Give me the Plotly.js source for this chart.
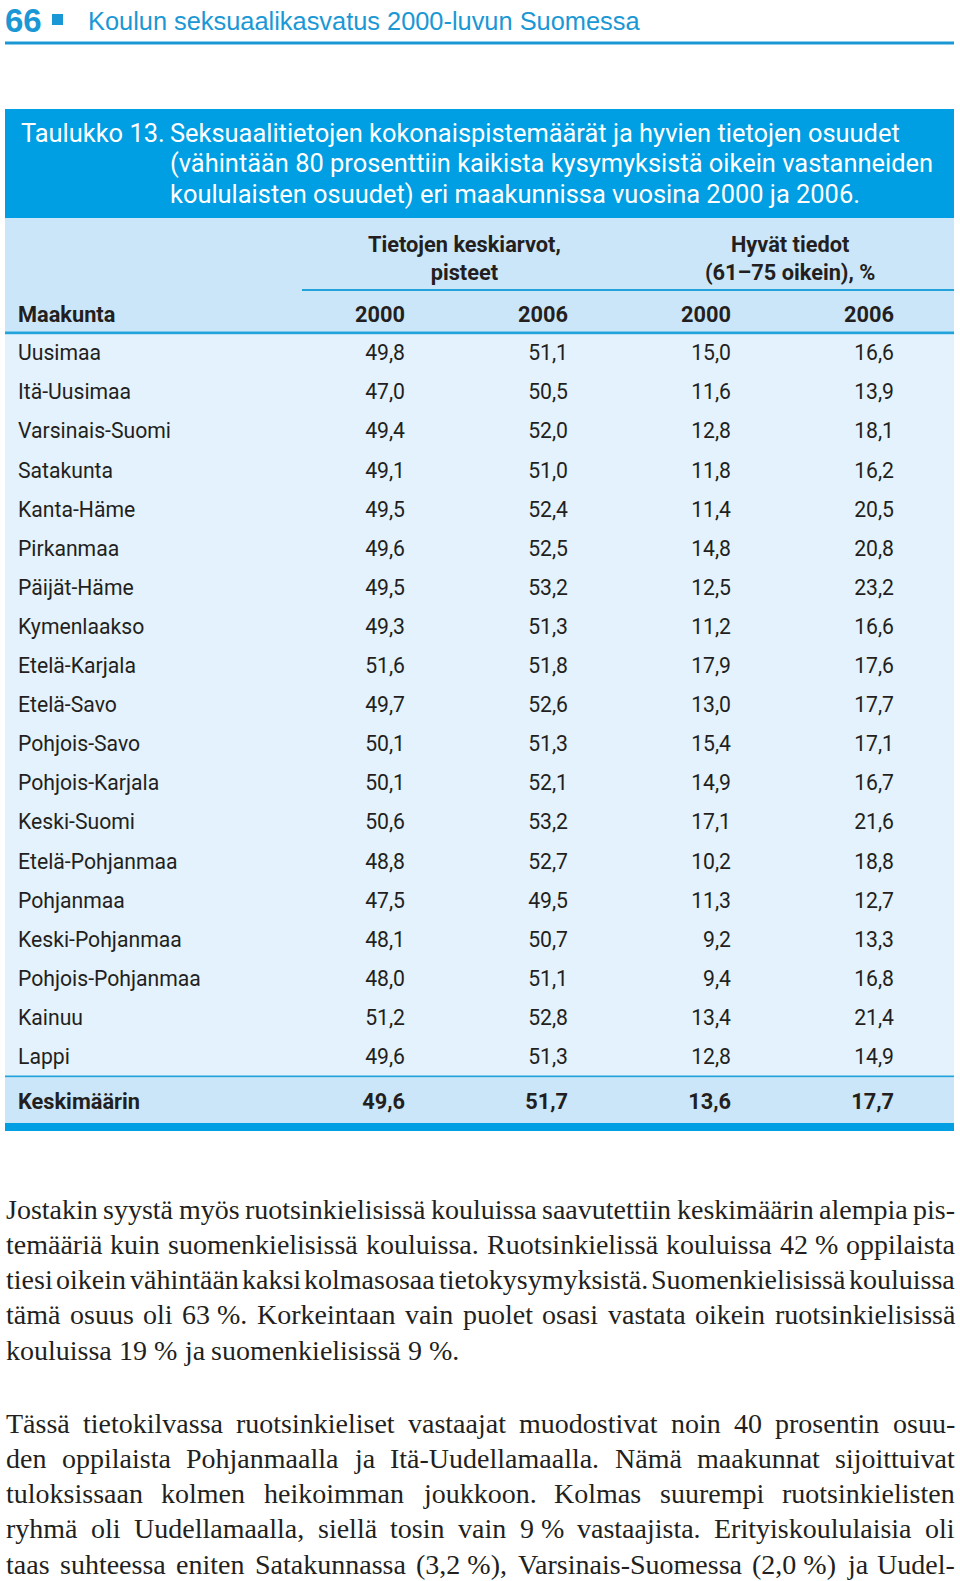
<!DOCTYPE html>
<html><head><meta charset="utf-8">
<script src="https://cdn.plot.ly/plotly-3.0.1.min.js"></script>
<style>html,body{margin:0;padding:0;background:#fff;}#chart{width:960px;height:1581px;}</style>
</head><body><div id="chart"></div>
<script>
// ---------------- data ----------------
const regions = ['Uusimaa','Itä-Uusimaa','Varsinais-Suomi','Satakunta','Kanta-Häme','Pirkanmaa','Päijät-Häme','Kymenlaakso','Etelä-Karjala','Etelä-Savo','Pohjois-Savo','Pohjois-Karjala','Keski-Suomi','Etelä-Pohjanmaa','Pohjanmaa','Keski-Pohjanmaa','Pohjois-Pohjanmaa','Kainuu','Lappi'];
const points2000 = [49.8,47.0,49.4,49.1,49.5,49.6,49.5,49.3,51.6,49.7,50.1,50.1,50.6,48.8,47.5,48.1,48.0,51.2,49.6];
const points2006 = [51.1,50.5,52.0,51.0,52.4,52.5,53.2,51.3,51.8,52.6,51.3,52.1,53.2,52.7,49.5,50.7,51.1,52.8,51.3];
const good2000 = [15.0,11.6,12.8,11.8,11.4,14.8,12.5,11.2,17.9,13.0,15.4,14.9,17.1,10.2,11.3,9.2,9.4,13.4,12.8];
const good2006 = [16.6,13.9,18.1,16.2,20.5,20.8,23.2,16.6,17.6,17.7,17.1,16.7,21.6,18.8,12.7,13.3,16.8,21.4,14.9];
const avgLabel = 'Keskimäärin';
const avgValues = [49.6,51.7,13.6,17.7];
const columnLabels = ['2000','2006','2000','2006'];
const rowHeaderLabel = 'Maakunta';
const groupLabels = ['Tietojen keskiarvot,<br>pisteet','Hyvät tiedot<br>(61–75 oikein), %'];
const pageNumber = '66';
const runningTitle = 'Koulun seksuaalikasvatus 2000-luvun Suomessa';
const captionLead = 'Taulukko 13.';
const captionLines = ['Seksuaalitietojen kokonaispistemäärät ja hyvien tietojen osuudet','(vähintään 80 prosenttiin kaikista kysymyksistä oikein vastanneiden','koululaisten osuudet) eri maakunnissa vuosina 2000 ja 2006.'];
const paragraph1 = ['Jostakin syystä myös ruotsinkielisissä kouluissa saavutettiin keskimäärin alempia pis-','temääriä kuin suomenkielisissä kouluissa. Ruotsinkielissä kouluissa 42 % oppilaista','tiesi oikein vähintään kaksi kolmasosaa tietokysymyksistä. Suomenkielisissä kouluissa','tämä osuus oli 63 %. Korkeintaan vain puolet osasi vastata oikein ruotsinkielisissä','kouluissa 19 % ja suomenkielisissä 9 %.'];
const paragraph2 = ['Tässä tietokilvassa ruotsinkieliset vastaajat muodostivat noin 40 prosentin osuu-','den oppilaista Pohjanmaalla ja Itä-Uudellamaalla. Nämä maakunnat sijoittuivat','tuloksissaan kolmen heikoimman joukkoon. Kolmas suurempi ruotsinkielisten','ryhmä oli Uudellamaalla, siellä tosin vain 9 % vastaajista. Erityiskoululaisia oli','taas suhteessa eniten Satakunnassa (3,2 %), Varsinais-Suomessa (2,0 %) ja Uudel-'];

// ---------------- helpers ----------------
const W = 960, H = 1581;
const cv = document.createElement('canvas'); const ctx = cv.getContext('2d');
function measure(text, size, family, weight){ ctx.font=(weight||'normal')+' '+size+'px "'+family+'"'; return ctx.measureText(text).width; }
function fitSize(text, target, family, weight, lo, hi){ const s = 40*target/measure(text,40,family,weight); return Math.max(lo, Math.min(hi, s)); }

const COND = 'Roboto';
const SANS = 'Liberation Sans';
const SERIF = 'Liberation Serif';

const BLUE = '#009fe3', LINE = '#23a3dc', HEAD_BG = '#cbe6f8', BODY_BG = '#e3f2fc', TXT = '#231f20', TITLE_BLUE = '#1a98d5';

const px = x => x / W;
const py = y => 1 - y / H;
// column / row scales (linear axes)
const COL0 = 405, COL_PITCH = 163, ROW0 = 355, ROW_PITCH = 39.1;
const colX = p => (p - COL0) / COL_PITCH;
const rowY = p => (p - ROW0) / ROW_PITCH;

const fmt = v => v.toFixed(1).replace('.', ',');

const tableSize = fitSize('Varsinais-Suomi', 153, COND, 'normal', 18, 27);
const boldSize = fitSize('Tietojen keskiarvot,', 193, COND, 'bold', 18, 27);

// ---------------- traces ----------------
const idx = regions.map((_, i) => i);
const traces = [];
traces.push({type:'scatter', mode:'text', x: regions.map(()=>colX(18)), y: idx, text: regions, textposition:'middle right',
  textfont:{family:COND, size:tableSize, color:TXT}, cliponaxis:false, hoverinfo:'skip', name:'Maakunta'});
const series = [points2000, points2006, good2000, good2006];
series.forEach((s, c) => {
  traces.push({type:'scatter', mode:'text', x: s.map(()=>c), y: idx, text: s.map(fmt), textposition:'middle left',
    textfont:{family:COND, size:tableSize, color:TXT}, cliponaxis:false, hoverinfo:'skip'});
});
// header row
const headRow = rowY(317);
traces.push({type:'scatter', mode:'text', x:[colX(18)], y:[headRow], text:['<b>'+rowHeaderLabel+'</b>'], textposition:'middle right',
  textfont:{family:COND, size:boldSize, color:TXT}, cliponaxis:false, hoverinfo:'skip'});
traces.push({type:'scatter', mode:'text', x: columnLabels.map((_,c)=>c), y: columnLabels.map(()=>headRow), text: columnLabels.map(t=>'<b>'+t+'</b>'), textposition:'middle left',
  textfont:{family:COND, size:boldSize, color:TXT}, cliponaxis:false, hoverinfo:'skip'});
// average row
const avgRow = rowY(1104);
traces.push({type:'scatter', mode:'text', x:[colX(18)], y:[avgRow], text:['<b>'+avgLabel+'</b>'], textposition:'middle right',
  textfont:{family:COND, size:boldSize, color:TXT}, cliponaxis:false, hoverinfo:'skip'});
traces.push({type:'scatter', mode:'text', x: avgValues.map((_,c)=>c), y: avgValues.map(()=>avgRow), text: avgValues.map(v=>'<b>'+fmt(v)+'</b>'), textposition:'middle left',
  textfont:{family:COND, size:boldSize, color:TXT}, cliponaxis:false, hoverinfo:'skip'});

// ---------------- shapes ----------------
const shapes = [];
function rect(x0,y0,x1,y1,color){ shapes.push({type:'rect', xref:'paper', yref:'paper', x0:px(x0), x1:px(x1), y0:py(y1), y1:py(y0), fillcolor:color, line:{width:0}, layer:'below'}); }
rect(5, 41.5, 954, 44.5, TITLE_BLUE);
rect(52, 14, 63, 25, TITLE_BLUE);
rect(5, 109, 954, 218, BLUE);
rect(5, 218, 954, 333, HEAD_BG);
rect(302, 289, 954, 291, LINE);
rect(5, 331.5, 954, 334.5, LINE);
rect(5, 334.5, 954, 1076, BODY_BG);
rect(5, 1075.5, 954, 1077.5, LINE);
rect(5, 1077.5, 954, 1123, HEAD_BG);
rect(5, 1123, 954, 1131, BLUE);

// ---------------- annotations ----------------
const ann = [];
function note(x, y, text, opts){ ann.push(Object.assign({xref:'paper', yref:'paper', x:px(x), y:py(y), text:text, showarrow:false, xanchor:'left', yanchor:'middle', borderpad:0}, opts)); }
note(4, 20, '<b>'+pageNumber+'</b>', {font:{family:SANS, size:33, color:TITLE_BLUE}});
const titleSize = fitSize(runningTitle, 552, SANS, 'normal', 18, 28);
note(87, 21, runningTitle, {font:{family:SANS, size:titleSize, color:TITLE_BLUE}});
const capSize = fitSize(captionLead+' '+captionLines[0], 880, COND, 'normal', 18, 28);
note(20, 133, captionLead, {font:{family:COND, size:capSize, color:'#ffffff'}});
captionLines.forEach((l,i)=> note(169, 133 + i*30.5, l, {font:{family:COND, size:capSize, color:'#ffffff'}}));
note(464, 258, '<b>'+groupLabels[0]+'</b>', {xanchor:'center', align:'center', font:{family:COND, size:boldSize, color:TXT}});
note(790, 258, '<b>'+groupLabels[1]+'</b>', {xanchor:'center', align:'center', font:{family:COND, size:boldSize, color:TXT}});

// paragraphs, justified word by word
const LEFT = 5, RIGHT = 954;
function tokens(line){
  const raw = line.split(' '); const out = [];
  raw.forEach(t => { if (t.startsWith('%') && out.length) out[out.length-1] += ' ' + t; else out.push(t); });
  return out;
}
let paraSize = 28;
[paragraph1, paragraph2].forEach(p => p.forEach((line, li) => {
  if (p === paragraph1 && li === p.length-1) return;
  const tk = tokens(line); const need = measure(tk.join(''), 40, SERIF)/40;
  const s = (RIGHT-LEFT - 3*(tk.length-1)) / need; if (s < paraSize) paraSize = s;
}));
function drawPara(lines, y0, pitch, lastJustified){
  lines.forEach((line, li) => {
    const tk = tokens(line); const ws = tk.map(t => measure(t, paraSize, SERIF));
    const sum = ws.reduce((a,b)=>a+b,0);
    const justify = li < lines.length-1 || lastJustified;
    const gap = justify ? (RIGHT-LEFT-sum)/(tk.length-1) : measure(' ', paraSize, SERIF);
    let x = LEFT;
    tk.forEach((t,i)=>{ note(x, y0 + li*pitch, t, {font:{family:SERIF, size:paraSize, color:TXT}}); x += ws[i] + gap; });
  });
}
drawPara(paragraph1, 1209, 35.3, false);
drawPara(paragraph2, 1423, 35.3, true);

const layout = {width:W, height:H, margin:{l:0,r:0,t:0,b:0,pad:0}, paper_bgcolor:'#ffffff', plot_bgcolor:'rgba(0,0,0,0)', showlegend:false, hovermode:false,
  xaxis:{range:[colX(0), colX(W)], visible:false, fixedrange:true},
  yaxis:{range:[rowY(H), rowY(0)], visible:false, fixedrange:true},
  shapes:shapes, annotations:ann};
Plotly.newPlot('chart', traces, layout, {staticPlot:true, displayModeBar:false});
</script></body></html>
